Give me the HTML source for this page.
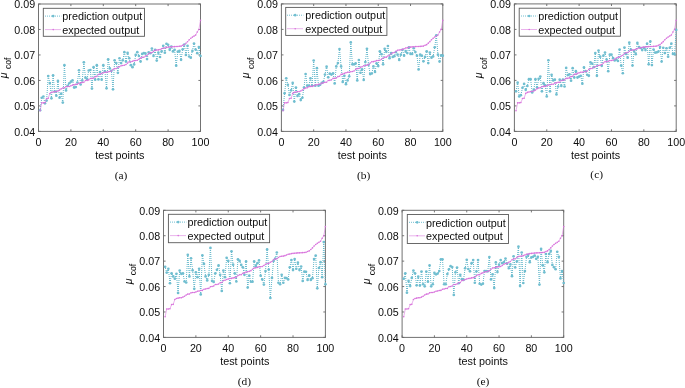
<!DOCTYPE html>
<html lang="en"><head><meta charset="utf-8"><title>Prediction output vs expected output</title>
<style>html,body{margin:0;padding:0;background:#fff;}body{width:685px;height:388px;overflow:hidden;}svg{display:block;}
.sa{font-family:"Liberation Sans",Arial,Helvetica,sans-serif;}
.se{font-family:"Liberation Serif","Times New Roman",Times,serif;}
</style>
</head><body>
<svg width="685" height="388" viewBox="0 0 685 388">
<rect x="0" y="0" width="685" height="388" fill="#ffffff"/>
<defs><pattern id="dt" patternUnits="userSpaceOnUse" width="2" height="2"><rect x="0" y="0" width="2" height="1" fill="#62b7ca"/></pattern></defs>
<g>
<rect x="38.5" y="4" width="162" height="127.4" fill="none" stroke="#727272" stroke-width="1"/>
<path d="M38.5 131.4V129.3M38.5 4V6.1M38.5 131.4H40.6M200.5 131.4H198.4M70.9 131.4V129.3M70.9 4V6.1M38.5 105.92H40.6M200.5 105.92H198.4M103.3 131.4V129.3M103.3 4V6.1M38.5 80.44H40.6M200.5 80.44H198.4M135.7 131.4V129.3M135.7 4V6.1M38.5 54.96H40.6M200.5 54.96H198.4M168.1 131.4V129.3M168.1 4V6.1M38.5 29.48H40.6M200.5 29.48H198.4M200.5 131.4V129.3M200.5 4V6.1M38.5 4H40.6M200.5 4H198.4" stroke="#686868" stroke-width="0.9" fill="none"/>
<polyline points="40.12,110.25 41.74,97.77 43.36,96.49 44.98,103.37 46.6,100.57 48.22,76.11 49.84,82.99 51.46,98.28 53.08,75.34 54.7,91.4 56.32,95.73 57.94,80.95 59.56,97.77 61.18,93.69 62.8,102.61 64.42,65.15 66.04,90.38 67.66,85.79 69.28,83.24 70.9,81.71 72.52,80.44 74.14,87.57 75.76,87.06 77.38,82.48 79,70.25 80.62,84.52 82.24,80.44 83.86,62.35 85.48,77.64 87.1,78.91 88.72,70.5 90.34,69.99 91.96,88.59 93.58,67.19 95.2,79.68 96.82,65.15 98.44,79.42 100.06,72.03 101.68,79.68 103.3,65.15 104.92,71.27 106.54,88.34 108.16,59.29 109.78,68.46 111.4,70.76 113.02,89.36 114.64,60.31 116.26,63.11 117.88,72.8 119.5,58.27 121.12,63.11 122.74,60.31 124.36,52.16 125.98,61.58 127.6,52.92 129.22,58.27 130.84,65.15 132.46,67.19 134.08,64.39 135.7,54.96 137.32,52.16 138.94,55.98 140.56,61.58 142.18,53.94 143.8,53.18 145.42,53.43 147.04,59.04 148.66,52.41 150.28,53.18 151.9,48.59 153.52,55.98 155.14,49.86 156.76,60.57 158.38,52.67 160,57 161.62,51.39 163.24,45.79 164.86,52.67 166.48,43.75 168.1,44.77 169.72,49.86 171.34,46.55 172.96,51.39 174.58,49.86 176.2,65.66 177.82,51.65 179.44,50.88 181.06,59.8 182.68,49.35 184.3,44.51 185.92,54.96 187.54,45.79 189.16,56.49 190.78,57.76 192.4,50.88 194.02,43.49 195.64,49.61 197.26,53.18 198.88,47.06 200.5,55.98" fill="none" stroke="url(#dt)" stroke-width="1"/>
<g fill="#70bed0"><circle cx="40.12" cy="110.25" r="1.35"/><circle cx="41.74" cy="97.77" r="1.35"/><circle cx="43.36" cy="96.49" r="1.35"/><circle cx="44.98" cy="103.37" r="1.35"/><circle cx="46.6" cy="100.57" r="1.35"/><circle cx="48.22" cy="76.11" r="1.35"/><circle cx="49.84" cy="82.99" r="1.35"/><circle cx="51.46" cy="98.28" r="1.35"/><circle cx="53.08" cy="75.34" r="1.35"/><circle cx="54.7" cy="91.4" r="1.35"/><circle cx="56.32" cy="95.73" r="1.35"/><circle cx="57.94" cy="80.95" r="1.35"/><circle cx="59.56" cy="97.77" r="1.35"/><circle cx="61.18" cy="93.69" r="1.35"/><circle cx="62.8" cy="102.61" r="1.35"/><circle cx="64.42" cy="65.15" r="1.35"/><circle cx="66.04" cy="90.38" r="1.35"/><circle cx="67.66" cy="85.79" r="1.35"/><circle cx="69.28" cy="83.24" r="1.35"/><circle cx="70.9" cy="81.71" r="1.35"/><circle cx="72.52" cy="80.44" r="1.35"/><circle cx="74.14" cy="87.57" r="1.35"/><circle cx="75.76" cy="87.06" r="1.35"/><circle cx="77.38" cy="82.48" r="1.35"/><circle cx="79" cy="70.25" r="1.35"/><circle cx="80.62" cy="84.52" r="1.35"/><circle cx="82.24" cy="80.44" r="1.35"/><circle cx="83.86" cy="62.35" r="1.35"/><circle cx="85.48" cy="77.64" r="1.35"/><circle cx="87.1" cy="78.91" r="1.35"/><circle cx="88.72" cy="70.5" r="1.35"/><circle cx="90.34" cy="69.99" r="1.35"/><circle cx="91.96" cy="88.59" r="1.35"/><circle cx="93.58" cy="67.19" r="1.35"/><circle cx="95.2" cy="79.68" r="1.35"/><circle cx="96.82" cy="65.15" r="1.35"/><circle cx="98.44" cy="79.42" r="1.35"/><circle cx="100.06" cy="72.03" r="1.35"/><circle cx="101.68" cy="79.68" r="1.35"/><circle cx="103.3" cy="65.15" r="1.35"/><circle cx="104.92" cy="71.27" r="1.35"/><circle cx="106.54" cy="88.34" r="1.35"/><circle cx="108.16" cy="59.29" r="1.35"/><circle cx="109.78" cy="68.46" r="1.35"/><circle cx="111.4" cy="70.76" r="1.35"/><circle cx="113.02" cy="89.36" r="1.35"/><circle cx="114.64" cy="60.31" r="1.35"/><circle cx="116.26" cy="63.11" r="1.35"/><circle cx="117.88" cy="72.8" r="1.35"/><circle cx="119.5" cy="58.27" r="1.35"/><circle cx="121.12" cy="63.11" r="1.35"/><circle cx="122.74" cy="60.31" r="1.35"/><circle cx="124.36" cy="52.16" r="1.35"/><circle cx="125.98" cy="61.58" r="1.35"/><circle cx="127.6" cy="52.92" r="1.35"/><circle cx="129.22" cy="58.27" r="1.35"/><circle cx="130.84" cy="65.15" r="1.35"/><circle cx="132.46" cy="67.19" r="1.35"/><circle cx="134.08" cy="64.39" r="1.35"/><circle cx="135.7" cy="54.96" r="1.35"/><circle cx="137.32" cy="52.16" r="1.35"/><circle cx="138.94" cy="55.98" r="1.35"/><circle cx="140.56" cy="61.58" r="1.35"/><circle cx="142.18" cy="53.94" r="1.35"/><circle cx="143.8" cy="53.18" r="1.35"/><circle cx="145.42" cy="53.43" r="1.35"/><circle cx="147.04" cy="59.04" r="1.35"/><circle cx="148.66" cy="52.41" r="1.35"/><circle cx="150.28" cy="53.18" r="1.35"/><circle cx="151.9" cy="48.59" r="1.35"/><circle cx="153.52" cy="55.98" r="1.35"/><circle cx="155.14" cy="49.86" r="1.35"/><circle cx="156.76" cy="60.57" r="1.35"/><circle cx="158.38" cy="52.67" r="1.35"/><circle cx="160" cy="57" r="1.35"/><circle cx="161.62" cy="51.39" r="1.35"/><circle cx="163.24" cy="45.79" r="1.35"/><circle cx="164.86" cy="52.67" r="1.35"/><circle cx="166.48" cy="43.75" r="1.35"/><circle cx="168.1" cy="44.77" r="1.35"/><circle cx="169.72" cy="49.86" r="1.35"/><circle cx="171.34" cy="46.55" r="1.35"/><circle cx="172.96" cy="51.39" r="1.35"/><circle cx="174.58" cy="49.86" r="1.35"/><circle cx="176.2" cy="65.66" r="1.35"/><circle cx="177.82" cy="51.65" r="1.35"/><circle cx="179.44" cy="50.88" r="1.35"/><circle cx="181.06" cy="59.8" r="1.35"/><circle cx="182.68" cy="49.35" r="1.35"/><circle cx="184.3" cy="44.51" r="1.35"/><circle cx="185.92" cy="54.96" r="1.35"/><circle cx="187.54" cy="45.79" r="1.35"/><circle cx="189.16" cy="56.49" r="1.35"/><circle cx="190.78" cy="57.76" r="1.35"/><circle cx="192.4" cy="50.88" r="1.35"/><circle cx="194.02" cy="43.49" r="1.35"/><circle cx="195.64" cy="49.61" r="1.35"/><circle cx="197.26" cy="53.18" r="1.35"/><circle cx="198.88" cy="47.06" r="1.35"/><circle cx="200.5" cy="55.98" r="1.35"/></g>
<polyline points="40.12,110.76 41.74,102.86 43.36,102.86 44.98,102.61 46.6,98.53 48.22,98.28 49.84,93.43 51.46,92.42 53.08,92.06 54.7,91.65 56.32,91.6 57.94,91.01 59.56,90.12 61.18,88.85 62.8,88.03 64.42,87.83 66.04,86.73 67.66,86.45 69.28,86.45 70.9,85.84 72.52,85.1 74.14,84.85 75.76,84.34 77.38,84.29 79,83.19 80.62,82.89 82.24,82.38 83.86,82.3 85.48,80.57 87.1,80.39 88.72,79.88 90.34,78.43 91.96,78.4 93.58,77.94 95.2,76.67 96.82,76.36 98.44,74.45 100.06,74.15 101.68,73.43 103.3,72.82 104.92,72.29 106.54,72.26 108.16,71.78 109.78,71.5 111.4,70.99 113.02,69.43 114.64,68.64 116.26,68.49 117.88,67.24 119.5,66.73 121.12,65.81 122.74,65.56 124.36,65.2 125.98,64.52 127.6,63.09 129.22,61.76 130.84,61.69 132.46,61.25 134.08,60.67 135.7,60.54 137.32,60.26 138.94,59.27 140.56,58.17 142.18,57.36 143.8,57.23 145.42,56.06 147.04,55.34 148.66,53.58 150.28,52.79 151.9,52.62 153.52,51.34 155.14,50.25 156.76,50.07 158.38,49.91 160,49.46 161.62,48.79 163.24,48.05 164.86,47.93 166.48,47.42 168.1,47.19 169.72,46.98 171.34,46.88 172.96,46.68 174.58,46.63 176.2,46.55 177.82,46.45 179.44,46.27 181.06,46.14 182.68,45.3 184.3,44.72 185.92,43.24 187.54,41.71 189.16,39.85 190.78,38.32 192.4,37.12 194.02,36.1 195.64,35.09 197.26,32.03 198.88,29.48 200.5,20.31" fill="none" stroke="#d873dc" stroke-width="0.55"/>
<g fill="#d873dc"><circle cx="40.12" cy="110.76" r="0.8"/><circle cx="41.74" cy="102.86" r="0.8"/><circle cx="43.36" cy="102.86" r="0.8"/><circle cx="44.98" cy="102.61" r="0.8"/><circle cx="46.6" cy="98.53" r="0.8"/><circle cx="48.22" cy="98.28" r="0.8"/><circle cx="49.84" cy="93.43" r="0.8"/><circle cx="51.46" cy="92.42" r="0.8"/><circle cx="53.08" cy="92.06" r="0.8"/><circle cx="54.7" cy="91.65" r="0.8"/><circle cx="56.32" cy="91.6" r="0.8"/><circle cx="57.94" cy="91.01" r="0.8"/><circle cx="59.56" cy="90.12" r="0.8"/><circle cx="61.18" cy="88.85" r="0.8"/><circle cx="62.8" cy="88.03" r="0.8"/><circle cx="64.42" cy="87.83" r="0.8"/><circle cx="66.04" cy="86.73" r="0.8"/><circle cx="67.66" cy="86.45" r="0.8"/><circle cx="69.28" cy="86.45" r="0.8"/><circle cx="70.9" cy="85.84" r="0.8"/><circle cx="72.52" cy="85.1" r="0.8"/><circle cx="74.14" cy="84.85" r="0.8"/><circle cx="75.76" cy="84.34" r="0.8"/><circle cx="77.38" cy="84.29" r="0.8"/><circle cx="79" cy="83.19" r="0.8"/><circle cx="80.62" cy="82.89" r="0.8"/><circle cx="82.24" cy="82.38" r="0.8"/><circle cx="83.86" cy="82.3" r="0.8"/><circle cx="85.48" cy="80.57" r="0.8"/><circle cx="87.1" cy="80.39" r="0.8"/><circle cx="88.72" cy="79.88" r="0.8"/><circle cx="90.34" cy="78.43" r="0.8"/><circle cx="91.96" cy="78.4" r="0.8"/><circle cx="93.58" cy="77.94" r="0.8"/><circle cx="95.2" cy="76.67" r="0.8"/><circle cx="96.82" cy="76.36" r="0.8"/><circle cx="98.44" cy="74.45" r="0.8"/><circle cx="100.06" cy="74.15" r="0.8"/><circle cx="101.68" cy="73.43" r="0.8"/><circle cx="103.3" cy="72.82" r="0.8"/><circle cx="104.92" cy="72.29" r="0.8"/><circle cx="106.54" cy="72.26" r="0.8"/><circle cx="108.16" cy="71.78" r="0.8"/><circle cx="109.78" cy="71.5" r="0.8"/><circle cx="111.4" cy="70.99" r="0.8"/><circle cx="113.02" cy="69.43" r="0.8"/><circle cx="114.64" cy="68.64" r="0.8"/><circle cx="116.26" cy="68.49" r="0.8"/><circle cx="117.88" cy="67.24" r="0.8"/><circle cx="119.5" cy="66.73" r="0.8"/><circle cx="121.12" cy="65.81" r="0.8"/><circle cx="122.74" cy="65.56" r="0.8"/><circle cx="124.36" cy="65.2" r="0.8"/><circle cx="125.98" cy="64.52" r="0.8"/><circle cx="127.6" cy="63.09" r="0.8"/><circle cx="129.22" cy="61.76" r="0.8"/><circle cx="130.84" cy="61.69" r="0.8"/><circle cx="132.46" cy="61.25" r="0.8"/><circle cx="134.08" cy="60.67" r="0.8"/><circle cx="135.7" cy="60.54" r="0.8"/><circle cx="137.32" cy="60.26" r="0.8"/><circle cx="138.94" cy="59.27" r="0.8"/><circle cx="140.56" cy="58.17" r="0.8"/><circle cx="142.18" cy="57.36" r="0.8"/><circle cx="143.8" cy="57.23" r="0.8"/><circle cx="145.42" cy="56.06" r="0.8"/><circle cx="147.04" cy="55.34" r="0.8"/><circle cx="148.66" cy="53.58" r="0.8"/><circle cx="150.28" cy="52.79" r="0.8"/><circle cx="151.9" cy="52.62" r="0.8"/><circle cx="153.52" cy="51.34" r="0.8"/><circle cx="155.14" cy="50.25" r="0.8"/><circle cx="156.76" cy="50.07" r="0.8"/><circle cx="158.38" cy="49.91" r="0.8"/><circle cx="160" cy="49.46" r="0.8"/><circle cx="161.62" cy="48.79" r="0.8"/><circle cx="163.24" cy="48.05" r="0.8"/><circle cx="164.86" cy="47.93" r="0.8"/><circle cx="166.48" cy="47.42" r="0.8"/><circle cx="168.1" cy="47.19" r="0.8"/><circle cx="169.72" cy="46.98" r="0.8"/><circle cx="171.34" cy="46.88" r="0.8"/><circle cx="172.96" cy="46.68" r="0.8"/><circle cx="174.58" cy="46.63" r="0.8"/><circle cx="176.2" cy="46.55" r="0.8"/><circle cx="177.82" cy="46.45" r="0.8"/><circle cx="179.44" cy="46.27" r="0.8"/><circle cx="181.06" cy="46.14" r="0.8"/><circle cx="182.68" cy="45.3" r="0.8"/><circle cx="184.3" cy="44.72" r="0.8"/><circle cx="185.92" cy="43.24" r="0.8"/><circle cx="187.54" cy="41.71" r="0.8"/><circle cx="189.16" cy="39.85" r="0.8"/><circle cx="190.78" cy="38.32" r="0.8"/><circle cx="192.4" cy="37.12" r="0.8"/><circle cx="194.02" cy="36.1" r="0.8"/><circle cx="195.64" cy="35.09" r="0.8"/><circle cx="197.26" cy="32.03" r="0.8"/><circle cx="198.88" cy="29.48" r="0.8"/><circle cx="200.5" cy="20.31" r="0.8"/></g>
<g class="sa" font-size="10.7" fill="#0d0d0d">
<text x="38.5" y="145.8" text-anchor="middle">0</text>
<text x="70.9" y="145.8" text-anchor="middle">20</text>
<text x="103.3" y="145.8" text-anchor="middle">40</text>
<text x="135.7" y="145.8" text-anchor="middle">60</text>
<text x="168.1" y="145.8" text-anchor="middle">80</text>
<text x="200.5" y="145.8" text-anchor="middle">100</text>
<text x="35.1" y="135.7" text-anchor="end">0.04</text>
<text x="35.1" y="110.22" text-anchor="end">0.05</text>
<text x="35.1" y="84.74" text-anchor="end">0.06</text>
<text x="35.1" y="59.26" text-anchor="end">0.07</text>
<text x="35.1" y="33.78" text-anchor="end">0.08</text>
<text x="35.1" y="8.3" text-anchor="end">0.09</text>
</g>
<text x="119.8" y="159.4" text-anchor="middle" class="sa" font-size="10.8" fill="#0d0d0d">test points</text>
<text transform="translate(6.5,78.2) rotate(-90)" class="sa" font-size="10.5" font-style="italic" fill="#0d0d0d">μ</text>
<text transform="translate(11,69.1) rotate(-90)" class="sa" font-size="8.6" fill="#0d0d0d">cof</text>
<text x="121" y="178.6" text-anchor="middle" class="se" font-size="11.4" fill="#0d0d0d">(a)</text>
<rect x="43.3" y="8.3" width="101.2" height="28" fill="#ffffff" stroke="#5a5a5a" stroke-width="0.9"/>
<path d="M45 16.1H61.4" stroke="#70bed0" stroke-width="1" stroke-dasharray="1 1" fill="none"/>
<circle cx="53.2" cy="16.1" r="1.35" fill="#70bed0"/>
<path d="M45 29.6H61" stroke="#d873dc" stroke-width="0.55" fill="none"/>
<circle cx="53.2" cy="29.6" r="0.8" fill="#d873dc"/>
<text x="62.3" y="20.3" class="sa" font-size="10.8" fill="#0d0d0d">prediction output</text>
<text x="62.3" y="33.8" class="sa" font-size="10.8" fill="#0d0d0d">expected output</text>
</g>
<g>
<rect x="281.4" y="3.9" width="161.4" height="127.5" fill="none" stroke="#727272" stroke-width="1"/>
<path d="M281.4 131.4V129.3M281.4 3.9V6M281.4 131.4H283.5M442.8 131.4H440.7M313.68 131.4V129.3M313.68 3.9V6M281.4 105.9H283.5M442.8 105.9H440.7M345.96 131.4V129.3M345.96 3.9V6M281.4 80.4H283.5M442.8 80.4H440.7M378.24 131.4V129.3M378.24 3.9V6M281.4 54.9H283.5M442.8 54.9H440.7M410.52 131.4V129.3M410.52 3.9V6M281.4 29.4H283.5M442.8 29.4H440.7M442.8 131.4V129.3M442.8 3.9V6M281.4 3.9H283.5M442.8 3.9H440.7" stroke="#686868" stroke-width="0.9" fill="none"/>
<polyline points="283.01,109.98 284.63,93.15 286.24,78.36 287.86,84.74 289.47,94.94 291.08,90.35 292.7,82.95 294.31,101.56 295.93,87.54 297.54,95.96 299.15,94.17 300.77,100.04 302.38,97.74 304,87.54 305.61,74.03 307.22,85.76 308.84,85.76 310.45,78.36 312.07,85.76 313.68,60.51 315.29,85.76 316.91,68.16 318.52,85.76 320.14,84.74 321.75,82.95 323.36,81.93 324.98,74.53 326.59,66.63 328.21,77.34 329.82,73.51 331.43,74.53 333.05,73.26 334.66,83.46 336.28,66.38 337.89,63.06 339.5,49.03 341.12,66.38 342.73,81.93 344.35,75.81 345.96,84.22 347.57,80.4 349.19,76.32 350.8,42.41 352.42,64.34 354.03,64.34 355.64,63.32 357.26,80.4 358.87,60 360.49,72.75 362.1,69.44 363.71,79.89 365.33,62.04 366.94,48.78 368.56,64.84 370.17,74.03 371.78,73.51 373.4,66.38 375.01,71.99 376.63,63.32 378.24,66.12 379.85,51.33 381.47,54.14 383.08,64.34 384.7,48.78 386.31,51.84 387.92,45.98 389.54,58.22 391.15,53.12 392.77,56.94 394.38,56.17 395.99,52.1 397.61,54.65 399.22,60 400.84,54.65 402.45,49.8 404.06,55.67 405.68,51.08 407.29,53.12 408.91,47.25 410.52,53.88 412.13,53.88 413.75,48.27 415.36,52.1 416.98,55.67 418.59,69.44 420.2,54.65 421.82,55.67 423.43,61.28 425.05,56.94 426.66,51.33 428.27,63.06 429.89,52.61 431.5,57.71 433.12,56.43 434.73,47.25 436.34,35.27 437.96,54.65 439.57,61.53 441.19,55.41 442.8,55.67" fill="none" stroke="url(#dt)" stroke-width="1"/>
<g fill="#70bed0"><circle cx="283.01" cy="109.98" r="1.35"/><circle cx="284.63" cy="93.15" r="1.35"/><circle cx="286.24" cy="78.36" r="1.35"/><circle cx="287.86" cy="84.74" r="1.35"/><circle cx="289.47" cy="94.94" r="1.35"/><circle cx="291.08" cy="90.35" r="1.35"/><circle cx="292.7" cy="82.95" r="1.35"/><circle cx="294.31" cy="101.56" r="1.35"/><circle cx="295.93" cy="87.54" r="1.35"/><circle cx="297.54" cy="95.96" r="1.35"/><circle cx="299.15" cy="94.17" r="1.35"/><circle cx="300.77" cy="100.04" r="1.35"/><circle cx="302.38" cy="97.74" r="1.35"/><circle cx="304" cy="87.54" r="1.35"/><circle cx="305.61" cy="74.03" r="1.35"/><circle cx="307.22" cy="85.76" r="1.35"/><circle cx="308.84" cy="85.76" r="1.35"/><circle cx="310.45" cy="78.36" r="1.35"/><circle cx="312.07" cy="85.76" r="1.35"/><circle cx="313.68" cy="60.51" r="1.35"/><circle cx="315.29" cy="85.76" r="1.35"/><circle cx="316.91" cy="68.16" r="1.35"/><circle cx="318.52" cy="85.76" r="1.35"/><circle cx="320.14" cy="84.74" r="1.35"/><circle cx="321.75" cy="82.95" r="1.35"/><circle cx="323.36" cy="81.93" r="1.35"/><circle cx="324.98" cy="74.53" r="1.35"/><circle cx="326.59" cy="66.63" r="1.35"/><circle cx="328.21" cy="77.34" r="1.35"/><circle cx="329.82" cy="73.51" r="1.35"/><circle cx="331.43" cy="74.53" r="1.35"/><circle cx="333.05" cy="73.26" r="1.35"/><circle cx="334.66" cy="83.46" r="1.35"/><circle cx="336.28" cy="66.38" r="1.35"/><circle cx="337.89" cy="63.06" r="1.35"/><circle cx="339.5" cy="49.03" r="1.35"/><circle cx="341.12" cy="66.38" r="1.35"/><circle cx="342.73" cy="81.93" r="1.35"/><circle cx="344.35" cy="75.81" r="1.35"/><circle cx="345.96" cy="84.22" r="1.35"/><circle cx="347.57" cy="80.4" r="1.35"/><circle cx="349.19" cy="76.32" r="1.35"/><circle cx="350.8" cy="42.41" r="1.35"/><circle cx="352.42" cy="64.34" r="1.35"/><circle cx="354.03" cy="64.34" r="1.35"/><circle cx="355.64" cy="63.32" r="1.35"/><circle cx="357.26" cy="80.4" r="1.35"/><circle cx="358.87" cy="60" r="1.35"/><circle cx="360.49" cy="72.75" r="1.35"/><circle cx="362.1" cy="69.44" r="1.35"/><circle cx="363.71" cy="79.89" r="1.35"/><circle cx="365.33" cy="62.04" r="1.35"/><circle cx="366.94" cy="48.78" r="1.35"/><circle cx="368.56" cy="64.84" r="1.35"/><circle cx="370.17" cy="74.03" r="1.35"/><circle cx="371.78" cy="73.51" r="1.35"/><circle cx="373.4" cy="66.38" r="1.35"/><circle cx="375.01" cy="71.99" r="1.35"/><circle cx="376.63" cy="63.32" r="1.35"/><circle cx="378.24" cy="66.12" r="1.35"/><circle cx="379.85" cy="51.33" r="1.35"/><circle cx="381.47" cy="54.14" r="1.35"/><circle cx="383.08" cy="64.34" r="1.35"/><circle cx="384.7" cy="48.78" r="1.35"/><circle cx="386.31" cy="51.84" r="1.35"/><circle cx="387.92" cy="45.98" r="1.35"/><circle cx="389.54" cy="58.22" r="1.35"/><circle cx="391.15" cy="53.12" r="1.35"/><circle cx="392.77" cy="56.94" r="1.35"/><circle cx="394.38" cy="56.17" r="1.35"/><circle cx="395.99" cy="52.1" r="1.35"/><circle cx="397.61" cy="54.65" r="1.35"/><circle cx="399.22" cy="60" r="1.35"/><circle cx="400.84" cy="54.65" r="1.35"/><circle cx="402.45" cy="49.8" r="1.35"/><circle cx="404.06" cy="55.67" r="1.35"/><circle cx="405.68" cy="51.08" r="1.35"/><circle cx="407.29" cy="53.12" r="1.35"/><circle cx="408.91" cy="47.25" r="1.35"/><circle cx="410.52" cy="53.88" r="1.35"/><circle cx="412.13" cy="53.88" r="1.35"/><circle cx="413.75" cy="48.27" r="1.35"/><circle cx="415.36" cy="52.1" r="1.35"/><circle cx="416.98" cy="55.67" r="1.35"/><circle cx="418.59" cy="69.44" r="1.35"/><circle cx="420.2" cy="54.65" r="1.35"/><circle cx="421.82" cy="55.67" r="1.35"/><circle cx="423.43" cy="61.28" r="1.35"/><circle cx="425.05" cy="56.94" r="1.35"/><circle cx="426.66" cy="51.33" r="1.35"/><circle cx="428.27" cy="63.06" r="1.35"/><circle cx="429.89" cy="52.61" r="1.35"/><circle cx="431.5" cy="57.71" r="1.35"/><circle cx="433.12" cy="56.43" r="1.35"/><circle cx="434.73" cy="47.25" r="1.35"/><circle cx="436.34" cy="35.27" r="1.35"/><circle cx="437.96" cy="54.65" r="1.35"/><circle cx="439.57" cy="61.53" r="1.35"/><circle cx="441.19" cy="55.41" r="1.35"/><circle cx="442.8" cy="55.67" r="1.35"/></g>
<polyline points="283.01,110.75 284.63,102.84 286.24,102.84 287.86,102.59 289.47,98.5 291.08,98.25 292.7,93.41 294.31,92.39 295.93,92.03 297.54,91.62 299.15,91.57 300.77,90.98 302.38,90.09 304,88.82 305.61,88 307.22,87.8 308.84,86.7 310.45,86.42 312.07,86.42 313.68,85.81 315.29,85.07 316.91,84.81 318.52,84.3 320.14,84.25 321.75,83.15 323.36,82.85 324.98,82.34 326.59,82.26 328.21,80.53 329.82,80.35 331.43,79.84 333.05,78.39 334.66,78.36 336.28,77.9 337.89,76.63 339.5,76.32 341.12,74.41 342.73,74.1 344.35,73.39 345.96,72.78 347.57,72.24 349.19,72.21 350.8,71.73 352.42,71.45 354.03,70.94 355.64,69.38 357.26,68.59 358.87,68.44 360.49,67.19 362.1,66.68 363.71,65.76 365.33,65.51 366.94,65.15 368.56,64.46 370.17,63.03 371.78,61.71 373.4,61.63 375.01,61.2 376.63,60.61 378.24,60.48 379.85,60.2 381.47,59.21 383.08,58.11 384.7,57.3 386.31,57.17 387.92,56 389.54,55.28 391.15,53.52 392.77,52.73 394.38,52.55 395.99,51.28 397.61,50.18 399.22,50 400.84,49.85 402.45,49.39 404.06,48.73 405.68,47.99 407.29,47.86 408.91,47.35 410.52,47.12 412.13,46.92 413.75,46.82 415.36,46.61 416.98,46.56 418.59,46.48 420.2,46.38 421.82,46.2 423.43,46.08 425.05,45.24 426.66,44.65 428.27,43.17 429.89,41.64 431.5,39.78 433.12,38.25 434.73,37.05 436.34,36.03 437.96,35.01 439.57,31.95 441.19,29.4 442.8,20.22" fill="none" stroke="#d873dc" stroke-width="0.55"/>
<g fill="#d873dc"><circle cx="283.01" cy="110.75" r="0.8"/><circle cx="284.63" cy="102.84" r="0.8"/><circle cx="286.24" cy="102.84" r="0.8"/><circle cx="287.86" cy="102.59" r="0.8"/><circle cx="289.47" cy="98.5" r="0.8"/><circle cx="291.08" cy="98.25" r="0.8"/><circle cx="292.7" cy="93.41" r="0.8"/><circle cx="294.31" cy="92.39" r="0.8"/><circle cx="295.93" cy="92.03" r="0.8"/><circle cx="297.54" cy="91.62" r="0.8"/><circle cx="299.15" cy="91.57" r="0.8"/><circle cx="300.77" cy="90.98" r="0.8"/><circle cx="302.38" cy="90.09" r="0.8"/><circle cx="304" cy="88.82" r="0.8"/><circle cx="305.61" cy="88" r="0.8"/><circle cx="307.22" cy="87.8" r="0.8"/><circle cx="308.84" cy="86.7" r="0.8"/><circle cx="310.45" cy="86.42" r="0.8"/><circle cx="312.07" cy="86.42" r="0.8"/><circle cx="313.68" cy="85.81" r="0.8"/><circle cx="315.29" cy="85.07" r="0.8"/><circle cx="316.91" cy="84.81" r="0.8"/><circle cx="318.52" cy="84.3" r="0.8"/><circle cx="320.14" cy="84.25" r="0.8"/><circle cx="321.75" cy="83.15" r="0.8"/><circle cx="323.36" cy="82.85" r="0.8"/><circle cx="324.98" cy="82.34" r="0.8"/><circle cx="326.59" cy="82.26" r="0.8"/><circle cx="328.21" cy="80.53" r="0.8"/><circle cx="329.82" cy="80.35" r="0.8"/><circle cx="331.43" cy="79.84" r="0.8"/><circle cx="333.05" cy="78.39" r="0.8"/><circle cx="334.66" cy="78.36" r="0.8"/><circle cx="336.28" cy="77.9" r="0.8"/><circle cx="337.89" cy="76.63" r="0.8"/><circle cx="339.5" cy="76.32" r="0.8"/><circle cx="341.12" cy="74.41" r="0.8"/><circle cx="342.73" cy="74.1" r="0.8"/><circle cx="344.35" cy="73.39" r="0.8"/><circle cx="345.96" cy="72.78" r="0.8"/><circle cx="347.57" cy="72.24" r="0.8"/><circle cx="349.19" cy="72.21" r="0.8"/><circle cx="350.8" cy="71.73" r="0.8"/><circle cx="352.42" cy="71.45" r="0.8"/><circle cx="354.03" cy="70.94" r="0.8"/><circle cx="355.64" cy="69.38" r="0.8"/><circle cx="357.26" cy="68.59" r="0.8"/><circle cx="358.87" cy="68.44" r="0.8"/><circle cx="360.49" cy="67.19" r="0.8"/><circle cx="362.1" cy="66.68" r="0.8"/><circle cx="363.71" cy="65.76" r="0.8"/><circle cx="365.33" cy="65.51" r="0.8"/><circle cx="366.94" cy="65.15" r="0.8"/><circle cx="368.56" cy="64.46" r="0.8"/><circle cx="370.17" cy="63.03" r="0.8"/><circle cx="371.78" cy="61.71" r="0.8"/><circle cx="373.4" cy="61.63" r="0.8"/><circle cx="375.01" cy="61.2" r="0.8"/><circle cx="376.63" cy="60.61" r="0.8"/><circle cx="378.24" cy="60.48" r="0.8"/><circle cx="379.85" cy="60.2" r="0.8"/><circle cx="381.47" cy="59.21" r="0.8"/><circle cx="383.08" cy="58.11" r="0.8"/><circle cx="384.7" cy="57.3" r="0.8"/><circle cx="386.31" cy="57.17" r="0.8"/><circle cx="387.92" cy="56" r="0.8"/><circle cx="389.54" cy="55.28" r="0.8"/><circle cx="391.15" cy="53.52" r="0.8"/><circle cx="392.77" cy="52.73" r="0.8"/><circle cx="394.38" cy="52.55" r="0.8"/><circle cx="395.99" cy="51.28" r="0.8"/><circle cx="397.61" cy="50.18" r="0.8"/><circle cx="399.22" cy="50" r="0.8"/><circle cx="400.84" cy="49.85" r="0.8"/><circle cx="402.45" cy="49.39" r="0.8"/><circle cx="404.06" cy="48.73" r="0.8"/><circle cx="405.68" cy="47.99" r="0.8"/><circle cx="407.29" cy="47.86" r="0.8"/><circle cx="408.91" cy="47.35" r="0.8"/><circle cx="410.52" cy="47.12" r="0.8"/><circle cx="412.13" cy="46.92" r="0.8"/><circle cx="413.75" cy="46.82" r="0.8"/><circle cx="415.36" cy="46.61" r="0.8"/><circle cx="416.98" cy="46.56" r="0.8"/><circle cx="418.59" cy="46.48" r="0.8"/><circle cx="420.2" cy="46.38" r="0.8"/><circle cx="421.82" cy="46.2" r="0.8"/><circle cx="423.43" cy="46.08" r="0.8"/><circle cx="425.05" cy="45.24" r="0.8"/><circle cx="426.66" cy="44.65" r="0.8"/><circle cx="428.27" cy="43.17" r="0.8"/><circle cx="429.89" cy="41.64" r="0.8"/><circle cx="431.5" cy="39.78" r="0.8"/><circle cx="433.12" cy="38.25" r="0.8"/><circle cx="434.73" cy="37.05" r="0.8"/><circle cx="436.34" cy="36.03" r="0.8"/><circle cx="437.96" cy="35.01" r="0.8"/><circle cx="439.57" cy="31.95" r="0.8"/><circle cx="441.19" cy="29.4" r="0.8"/><circle cx="442.8" cy="20.22" r="0.8"/></g>
<g class="sa" font-size="10.7" fill="#0d0d0d">
<text x="281.4" y="145.8" text-anchor="middle">0</text>
<text x="313.68" y="145.8" text-anchor="middle">20</text>
<text x="345.96" y="145.8" text-anchor="middle">40</text>
<text x="378.24" y="145.8" text-anchor="middle">60</text>
<text x="410.52" y="145.8" text-anchor="middle">80</text>
<text x="442.8" y="145.8" text-anchor="middle">100</text>
<text x="278" y="135.7" text-anchor="end">0.04</text>
<text x="278" y="110.2" text-anchor="end">0.05</text>
<text x="278" y="84.7" text-anchor="end">0.06</text>
<text x="278" y="59.2" text-anchor="end">0.07</text>
<text x="278" y="33.7" text-anchor="end">0.08</text>
<text x="278" y="8.2" text-anchor="end">0.09</text>
</g>
<text x="362.4" y="159.4" text-anchor="middle" class="sa" font-size="10.8" fill="#0d0d0d">test points</text>
<text transform="translate(249.4,78.15) rotate(-90)" class="sa" font-size="10.5" font-style="italic" fill="#0d0d0d">μ</text>
<text transform="translate(253.9,69.05) rotate(-90)" class="sa" font-size="8.6" fill="#0d0d0d">cof</text>
<text x="363.6" y="178.6" text-anchor="middle" class="se" font-size="11.4" fill="#0d0d0d">(b)</text>
<rect x="285.7" y="7.4" width="101.2" height="28" fill="#ffffff" stroke="#5a5a5a" stroke-width="0.9"/>
<path d="M287 15.2H303.4" stroke="#70bed0" stroke-width="1" stroke-dasharray="1 1" fill="none"/>
<circle cx="295.2" cy="15.2" r="1.35" fill="#70bed0"/>
<path d="M287 28.7H303" stroke="#d873dc" stroke-width="0.55" fill="none"/>
<circle cx="295.2" cy="28.7" r="0.8" fill="#d873dc"/>
<text x="305.3" y="19.4" class="sa" font-size="10.8" fill="#0d0d0d">prediction output</text>
<text x="305.3" y="32.9" class="sa" font-size="10.8" fill="#0d0d0d">expected output</text>
</g>
<g>
<rect x="514.4" y="3.9" width="161.8" height="127.5" fill="none" stroke="#727272" stroke-width="1"/>
<path d="M514.4 131.4V129.3M514.4 3.9V6M514.4 131.4H516.5M676.2 131.4H674.1M546.76 131.4V129.3M546.76 3.9V6M514.4 105.9H516.5M676.2 105.9H674.1M579.12 131.4V129.3M579.12 3.9V6M514.4 80.4H516.5M676.2 80.4H674.1M611.48 131.4V129.3M611.48 3.9V6M514.4 54.9H516.5M676.2 54.9H674.1M643.84 131.4V129.3M643.84 3.9V6M514.4 29.4H516.5M676.2 29.4H674.1M676.2 131.4V129.3M676.2 3.9V6M514.4 3.9H516.5M676.2 3.9H674.1" stroke="#686868" stroke-width="0.9" fill="none"/>
<polyline points="516.02,91.37 517.64,82.7 519.25,96.47 520.87,95.19 522.49,87.8 524.11,83.97 525.73,89.84 527.34,86.01 528.96,79.13 530.58,79.13 532.2,92.39 533.82,89.84 535.43,79.13 537.05,87.54 538.67,78.87 540.29,76.58 541.91,91.37 543.52,83.21 545.14,85.25 546.76,96.47 548.38,60.26 550,91.37 551.61,74.79 553.23,80.4 554.85,79.64 556.47,94.43 558.09,86.52 559.7,79.64 561.32,86.01 562.94,79.64 564.56,86.52 566.18,67.91 567.79,75.05 569.41,74.28 571.03,80.66 572.65,68.16 574.27,77.59 575.88,71.22 577.5,77.59 579.12,76.58 580.74,75.81 582.36,83.72 583.97,67.4 585.59,71.22 587.21,74.79 588.83,75.81 590.45,62.3 592.06,63.57 593.68,67.14 595.3,53.12 596.92,75.81 598.54,50.57 600.15,56.69 601.77,65.87 603.39,55.67 605.01,52.61 606.63,59.49 608.24,71.22 609.86,54.65 611.48,54.65 613.1,58.22 614.72,60.51 616.33,59.49 617.95,61.02 619.57,49.55 621.19,65.61 622.81,73.26 624.42,47.5 626.04,53.88 627.66,57.71 629.28,42.66 630.9,49.55 632.51,65.61 634.13,51.08 635.75,54.14 637.37,42.92 638.99,47 640.6,48.02 642.22,50.06 643.84,47.76 645.46,50.06 647.08,43.68 648.69,64.34 650.31,41.38 651.93,65.1 653.55,49.55 655.17,52.61 656.78,52.35 658.4,51.59 660.02,47 661.64,61.53 663.26,47.76 664.87,53.12 666.49,48.27 668.11,56.69 669.73,47.76 671.35,43.68 672.96,53.88 674.58,54.14 676.2,29.91" fill="none" stroke="url(#dt)" stroke-width="1"/>
<g fill="#70bed0"><circle cx="516.02" cy="91.37" r="1.35"/><circle cx="517.64" cy="82.7" r="1.35"/><circle cx="519.25" cy="96.47" r="1.35"/><circle cx="520.87" cy="95.19" r="1.35"/><circle cx="522.49" cy="87.8" r="1.35"/><circle cx="524.11" cy="83.97" r="1.35"/><circle cx="525.73" cy="89.84" r="1.35"/><circle cx="527.34" cy="86.01" r="1.35"/><circle cx="528.96" cy="79.13" r="1.35"/><circle cx="530.58" cy="79.13" r="1.35"/><circle cx="532.2" cy="92.39" r="1.35"/><circle cx="533.82" cy="89.84" r="1.35"/><circle cx="535.43" cy="79.13" r="1.35"/><circle cx="537.05" cy="87.54" r="1.35"/><circle cx="538.67" cy="78.87" r="1.35"/><circle cx="540.29" cy="76.58" r="1.35"/><circle cx="541.91" cy="91.37" r="1.35"/><circle cx="543.52" cy="83.21" r="1.35"/><circle cx="545.14" cy="85.25" r="1.35"/><circle cx="546.76" cy="96.47" r="1.35"/><circle cx="548.38" cy="60.26" r="1.35"/><circle cx="550" cy="91.37" r="1.35"/><circle cx="551.61" cy="74.79" r="1.35"/><circle cx="553.23" cy="80.4" r="1.35"/><circle cx="554.85" cy="79.64" r="1.35"/><circle cx="556.47" cy="94.43" r="1.35"/><circle cx="558.09" cy="86.52" r="1.35"/><circle cx="559.7" cy="79.64" r="1.35"/><circle cx="561.32" cy="86.01" r="1.35"/><circle cx="562.94" cy="79.64" r="1.35"/><circle cx="564.56" cy="86.52" r="1.35"/><circle cx="566.18" cy="67.91" r="1.35"/><circle cx="567.79" cy="75.05" r="1.35"/><circle cx="569.41" cy="74.28" r="1.35"/><circle cx="571.03" cy="80.66" r="1.35"/><circle cx="572.65" cy="68.16" r="1.35"/><circle cx="574.27" cy="77.59" r="1.35"/><circle cx="575.88" cy="71.22" r="1.35"/><circle cx="577.5" cy="77.59" r="1.35"/><circle cx="579.12" cy="76.58" r="1.35"/><circle cx="580.74" cy="75.81" r="1.35"/><circle cx="582.36" cy="83.72" r="1.35"/><circle cx="583.97" cy="67.4" r="1.35"/><circle cx="585.59" cy="71.22" r="1.35"/><circle cx="587.21" cy="74.79" r="1.35"/><circle cx="588.83" cy="75.81" r="1.35"/><circle cx="590.45" cy="62.3" r="1.35"/><circle cx="592.06" cy="63.57" r="1.35"/><circle cx="593.68" cy="67.14" r="1.35"/><circle cx="595.3" cy="53.12" r="1.35"/><circle cx="596.92" cy="75.81" r="1.35"/><circle cx="598.54" cy="50.57" r="1.35"/><circle cx="600.15" cy="56.69" r="1.35"/><circle cx="601.77" cy="65.87" r="1.35"/><circle cx="603.39" cy="55.67" r="1.35"/><circle cx="605.01" cy="52.61" r="1.35"/><circle cx="606.63" cy="59.49" r="1.35"/><circle cx="608.24" cy="71.22" r="1.35"/><circle cx="609.86" cy="54.65" r="1.35"/><circle cx="611.48" cy="54.65" r="1.35"/><circle cx="613.1" cy="58.22" r="1.35"/><circle cx="614.72" cy="60.51" r="1.35"/><circle cx="616.33" cy="59.49" r="1.35"/><circle cx="617.95" cy="61.02" r="1.35"/><circle cx="619.57" cy="49.55" r="1.35"/><circle cx="621.19" cy="65.61" r="1.35"/><circle cx="622.81" cy="73.26" r="1.35"/><circle cx="624.42" cy="47.5" r="1.35"/><circle cx="626.04" cy="53.88" r="1.35"/><circle cx="627.66" cy="57.71" r="1.35"/><circle cx="629.28" cy="42.66" r="1.35"/><circle cx="630.9" cy="49.55" r="1.35"/><circle cx="632.51" cy="65.61" r="1.35"/><circle cx="634.13" cy="51.08" r="1.35"/><circle cx="635.75" cy="54.14" r="1.35"/><circle cx="637.37" cy="42.92" r="1.35"/><circle cx="638.99" cy="47" r="1.35"/><circle cx="640.6" cy="48.02" r="1.35"/><circle cx="642.22" cy="50.06" r="1.35"/><circle cx="643.84" cy="47.76" r="1.35"/><circle cx="645.46" cy="50.06" r="1.35"/><circle cx="647.08" cy="43.68" r="1.35"/><circle cx="648.69" cy="64.34" r="1.35"/><circle cx="650.31" cy="41.38" r="1.35"/><circle cx="651.93" cy="65.1" r="1.35"/><circle cx="653.55" cy="49.55" r="1.35"/><circle cx="655.17" cy="52.61" r="1.35"/><circle cx="656.78" cy="52.35" r="1.35"/><circle cx="658.4" cy="51.59" r="1.35"/><circle cx="660.02" cy="47" r="1.35"/><circle cx="661.64" cy="61.53" r="1.35"/><circle cx="663.26" cy="47.76" r="1.35"/><circle cx="664.87" cy="53.12" r="1.35"/><circle cx="666.49" cy="48.27" r="1.35"/><circle cx="668.11" cy="56.69" r="1.35"/><circle cx="669.73" cy="47.76" r="1.35"/><circle cx="671.35" cy="43.68" r="1.35"/><circle cx="672.96" cy="53.88" r="1.35"/><circle cx="674.58" cy="54.14" r="1.35"/><circle cx="676.2" cy="29.91" r="1.35"/></g>
<polyline points="516.02,110.75 517.64,102.84 519.25,102.84 520.87,102.59 522.49,98.5 524.11,98.25 525.73,93.41 527.34,92.39 528.96,92.03 530.58,91.62 532.2,91.57 533.82,90.98 535.43,90.09 537.05,88.82 538.67,88 540.29,87.8 541.91,86.7 543.52,86.42 545.14,86.42 546.76,85.81 548.38,85.07 550,84.81 551.61,84.3 553.23,84.25 554.85,83.15 556.47,82.85 558.09,82.34 559.7,82.26 561.32,80.53 562.94,80.35 564.56,79.84 566.18,78.39 567.79,78.36 569.41,77.9 571.03,76.63 572.65,76.32 574.27,74.41 575.88,74.1 577.5,73.39 579.12,72.78 580.74,72.24 582.36,72.21 583.97,71.73 585.59,71.45 587.21,70.94 588.83,69.38 590.45,68.59 592.06,68.44 593.68,67.19 595.3,66.68 596.92,65.76 598.54,65.51 600.15,65.15 601.77,64.46 603.39,63.03 605.01,61.71 606.63,61.63 608.24,61.2 609.86,60.61 611.48,60.48 613.1,60.2 614.72,59.21 616.33,58.11 617.95,57.3 619.57,57.17 621.19,56 622.81,55.28 624.42,53.52 626.04,52.73 627.66,52.55 629.28,51.28 630.9,50.18 632.51,50 634.13,49.85 635.75,49.39 637.37,48.73 638.99,47.99 640.6,47.86 642.22,47.35 643.84,47.12 645.46,46.92 647.08,46.82 648.69,46.61 650.31,46.56 651.93,46.48 653.55,46.38 655.17,46.2 656.78,46.08 658.4,45.24 660.02,44.65 661.64,43.17 663.26,41.64 664.87,39.78 666.49,38.25 668.11,37.05 669.73,36.03 671.35,35.01 672.96,31.95 674.58,29.4 676.2,20.22" fill="none" stroke="#d873dc" stroke-width="0.55"/>
<g fill="#d873dc"><circle cx="516.02" cy="110.75" r="0.8"/><circle cx="517.64" cy="102.84" r="0.8"/><circle cx="519.25" cy="102.84" r="0.8"/><circle cx="520.87" cy="102.59" r="0.8"/><circle cx="522.49" cy="98.5" r="0.8"/><circle cx="524.11" cy="98.25" r="0.8"/><circle cx="525.73" cy="93.41" r="0.8"/><circle cx="527.34" cy="92.39" r="0.8"/><circle cx="528.96" cy="92.03" r="0.8"/><circle cx="530.58" cy="91.62" r="0.8"/><circle cx="532.2" cy="91.57" r="0.8"/><circle cx="533.82" cy="90.98" r="0.8"/><circle cx="535.43" cy="90.09" r="0.8"/><circle cx="537.05" cy="88.82" r="0.8"/><circle cx="538.67" cy="88" r="0.8"/><circle cx="540.29" cy="87.8" r="0.8"/><circle cx="541.91" cy="86.7" r="0.8"/><circle cx="543.52" cy="86.42" r="0.8"/><circle cx="545.14" cy="86.42" r="0.8"/><circle cx="546.76" cy="85.81" r="0.8"/><circle cx="548.38" cy="85.07" r="0.8"/><circle cx="550" cy="84.81" r="0.8"/><circle cx="551.61" cy="84.3" r="0.8"/><circle cx="553.23" cy="84.25" r="0.8"/><circle cx="554.85" cy="83.15" r="0.8"/><circle cx="556.47" cy="82.85" r="0.8"/><circle cx="558.09" cy="82.34" r="0.8"/><circle cx="559.7" cy="82.26" r="0.8"/><circle cx="561.32" cy="80.53" r="0.8"/><circle cx="562.94" cy="80.35" r="0.8"/><circle cx="564.56" cy="79.84" r="0.8"/><circle cx="566.18" cy="78.39" r="0.8"/><circle cx="567.79" cy="78.36" r="0.8"/><circle cx="569.41" cy="77.9" r="0.8"/><circle cx="571.03" cy="76.63" r="0.8"/><circle cx="572.65" cy="76.32" r="0.8"/><circle cx="574.27" cy="74.41" r="0.8"/><circle cx="575.88" cy="74.1" r="0.8"/><circle cx="577.5" cy="73.39" r="0.8"/><circle cx="579.12" cy="72.78" r="0.8"/><circle cx="580.74" cy="72.24" r="0.8"/><circle cx="582.36" cy="72.21" r="0.8"/><circle cx="583.97" cy="71.73" r="0.8"/><circle cx="585.59" cy="71.45" r="0.8"/><circle cx="587.21" cy="70.94" r="0.8"/><circle cx="588.83" cy="69.38" r="0.8"/><circle cx="590.45" cy="68.59" r="0.8"/><circle cx="592.06" cy="68.44" r="0.8"/><circle cx="593.68" cy="67.19" r="0.8"/><circle cx="595.3" cy="66.68" r="0.8"/><circle cx="596.92" cy="65.76" r="0.8"/><circle cx="598.54" cy="65.51" r="0.8"/><circle cx="600.15" cy="65.15" r="0.8"/><circle cx="601.77" cy="64.46" r="0.8"/><circle cx="603.39" cy="63.03" r="0.8"/><circle cx="605.01" cy="61.71" r="0.8"/><circle cx="606.63" cy="61.63" r="0.8"/><circle cx="608.24" cy="61.2" r="0.8"/><circle cx="609.86" cy="60.61" r="0.8"/><circle cx="611.48" cy="60.48" r="0.8"/><circle cx="613.1" cy="60.2" r="0.8"/><circle cx="614.72" cy="59.21" r="0.8"/><circle cx="616.33" cy="58.11" r="0.8"/><circle cx="617.95" cy="57.3" r="0.8"/><circle cx="619.57" cy="57.17" r="0.8"/><circle cx="621.19" cy="56" r="0.8"/><circle cx="622.81" cy="55.28" r="0.8"/><circle cx="624.42" cy="53.52" r="0.8"/><circle cx="626.04" cy="52.73" r="0.8"/><circle cx="627.66" cy="52.55" r="0.8"/><circle cx="629.28" cy="51.28" r="0.8"/><circle cx="630.9" cy="50.18" r="0.8"/><circle cx="632.51" cy="50" r="0.8"/><circle cx="634.13" cy="49.85" r="0.8"/><circle cx="635.75" cy="49.39" r="0.8"/><circle cx="637.37" cy="48.73" r="0.8"/><circle cx="638.99" cy="47.99" r="0.8"/><circle cx="640.6" cy="47.86" r="0.8"/><circle cx="642.22" cy="47.35" r="0.8"/><circle cx="643.84" cy="47.12" r="0.8"/><circle cx="645.46" cy="46.92" r="0.8"/><circle cx="647.08" cy="46.82" r="0.8"/><circle cx="648.69" cy="46.61" r="0.8"/><circle cx="650.31" cy="46.56" r="0.8"/><circle cx="651.93" cy="46.48" r="0.8"/><circle cx="653.55" cy="46.38" r="0.8"/><circle cx="655.17" cy="46.2" r="0.8"/><circle cx="656.78" cy="46.08" r="0.8"/><circle cx="658.4" cy="45.24" r="0.8"/><circle cx="660.02" cy="44.65" r="0.8"/><circle cx="661.64" cy="43.17" r="0.8"/><circle cx="663.26" cy="41.64" r="0.8"/><circle cx="664.87" cy="39.78" r="0.8"/><circle cx="666.49" cy="38.25" r="0.8"/><circle cx="668.11" cy="37.05" r="0.8"/><circle cx="669.73" cy="36.03" r="0.8"/><circle cx="671.35" cy="35.01" r="0.8"/><circle cx="672.96" cy="31.95" r="0.8"/><circle cx="674.58" cy="29.4" r="0.8"/><circle cx="676.2" cy="20.22" r="0.8"/></g>
<g class="sa" font-size="10.7" fill="#0d0d0d">
<text x="514.4" y="145.8" text-anchor="middle">0</text>
<text x="546.76" y="145.8" text-anchor="middle">20</text>
<text x="579.12" y="145.8" text-anchor="middle">40</text>
<text x="611.48" y="145.8" text-anchor="middle">60</text>
<text x="643.84" y="145.8" text-anchor="middle">80</text>
<text x="676.2" y="145.8" text-anchor="middle">100</text>
<text x="511" y="135.7" text-anchor="end">0.04</text>
<text x="511" y="110.2" text-anchor="end">0.05</text>
<text x="511" y="84.7" text-anchor="end">0.06</text>
<text x="511" y="59.2" text-anchor="end">0.07</text>
<text x="511" y="33.7" text-anchor="end">0.08</text>
<text x="511" y="8.2" text-anchor="end">0.09</text>
</g>
<text x="595.6" y="159.4" text-anchor="middle" class="sa" font-size="10.8" fill="#0d0d0d">test points</text>
<text transform="translate(482.4,78.15) rotate(-90)" class="sa" font-size="10.5" font-style="italic" fill="#0d0d0d">μ</text>
<text transform="translate(486.9,69.05) rotate(-90)" class="sa" font-size="8.6" fill="#0d0d0d">cof</text>
<text x="596.7" y="178.4" text-anchor="middle" class="se" font-size="11.4" fill="#0d0d0d">(c)</text>
<rect x="519.2" y="8.2" width="101.2" height="28" fill="#ffffff" stroke="#5a5a5a" stroke-width="0.9"/>
<path d="M521 16H537.4" stroke="#70bed0" stroke-width="1" stroke-dasharray="1 1" fill="none"/>
<circle cx="529.2" cy="16" r="1.35" fill="#70bed0"/>
<path d="M521 29.5H537" stroke="#d873dc" stroke-width="0.55" fill="none"/>
<circle cx="529.2" cy="29.5" r="0.8" fill="#d873dc"/>
<text x="538.2" y="20.3" class="sa" font-size="10.8" fill="#0d0d0d">prediction output</text>
<text x="538.2" y="33.8" class="sa" font-size="10.8" fill="#0d0d0d">expected output</text>
</g>
<g>
<rect x="163.5" y="210.3" width="161.9" height="127.1" fill="none" stroke="#727272" stroke-width="1"/>
<path d="M163.5 337.4V335.3M163.5 210.3V212.4M163.5 337.4H165.6M325.4 337.4H323.3M195.88 337.4V335.3M195.88 210.3V212.4M163.5 311.98H165.6M325.4 311.98H323.3M228.26 337.4V335.3M228.26 210.3V212.4M163.5 286.56H165.6M325.4 286.56H323.3M260.64 337.4V335.3M260.64 210.3V212.4M163.5 261.14H165.6M325.4 261.14H323.3M293.02 337.4V335.3M293.02 210.3V212.4M163.5 235.72H165.6M325.4 235.72H323.3M325.4 337.4V335.3M325.4 210.3V212.4M163.5 210.3H165.6M325.4 210.3H323.3" stroke="#686868" stroke-width="0.9" fill="none"/>
<polyline points="165.12,266.73 166.74,272.58 168.36,268.77 169.98,283.26 171.59,273.34 173.21,276.39 174.83,278.68 176.45,273.85 178.07,292.91 179.69,270.55 181.31,273.85 182.93,273.34 184.55,281.48 186.17,282.49 187.78,254.79 189.4,276.39 191.02,258.34 192.64,270.29 194.26,288.85 195.88,272.32 197.5,277.15 199.12,268.77 200.74,294.44 202.36,255.29 203.97,263.94 205.59,276.39 207.21,280.46 208.83,274.87 210.45,247.92 212.07,280.97 213.69,281.98 215.31,273.34 216.93,269.78 218.55,265.46 220.16,274.87 221.78,290.88 223.4,270.55 225.02,277.15 226.64,257.84 228.26,260.89 229.88,283.26 231.5,251.23 233.12,264.7 234.74,273.34 236.35,281.48 237.97,259.36 239.59,260.89 241.21,264.95 242.83,267.24 244.45,274.87 246.07,261.39 247.69,287.58 249.31,275.63 250.93,281.73 252.54,281.73 254.16,261.39 255.78,266.22 257.4,263.17 259.02,260.38 260.64,275.63 262.26,279.44 263.88,284.53 265.5,271.05 267.12,249.45 268.74,269.53 270.35,298 271.97,277.92 273.59,260.89 275.21,258.6 276.83,252.5 278.45,282.75 280.07,284.27 281.69,274.87 283.31,282.75 284.92,277.92 286.54,278.17 288.16,279.44 289.78,267.24 291.4,260.12 293.02,270.04 294.64,259.11 296.26,268.77 297.88,262.67 299.5,270.04 301.12,266.48 302.73,280.97 304.35,271.56 305.97,271.82 307.59,279.95 309.21,275.38 310.83,279.95 312.45,278.17 314.07,259.11 315.69,255.55 317.3,288.34 318.92,268 320.54,262.16 322.16,277.15 323.78,242.08 325.4,284.27" fill="none" stroke="url(#dt)" stroke-width="1"/>
<g fill="#70bed0"><circle cx="165.12" cy="266.73" r="1.35"/><circle cx="166.74" cy="272.58" r="1.35"/><circle cx="168.36" cy="268.77" r="1.35"/><circle cx="169.98" cy="283.26" r="1.35"/><circle cx="171.59" cy="273.34" r="1.35"/><circle cx="173.21" cy="276.39" r="1.35"/><circle cx="174.83" cy="278.68" r="1.35"/><circle cx="176.45" cy="273.85" r="1.35"/><circle cx="178.07" cy="292.91" r="1.35"/><circle cx="179.69" cy="270.55" r="1.35"/><circle cx="181.31" cy="273.85" r="1.35"/><circle cx="182.93" cy="273.34" r="1.35"/><circle cx="184.55" cy="281.48" r="1.35"/><circle cx="186.17" cy="282.49" r="1.35"/><circle cx="187.78" cy="254.79" r="1.35"/><circle cx="189.4" cy="276.39" r="1.35"/><circle cx="191.02" cy="258.34" r="1.35"/><circle cx="192.64" cy="270.29" r="1.35"/><circle cx="194.26" cy="288.85" r="1.35"/><circle cx="195.88" cy="272.32" r="1.35"/><circle cx="197.5" cy="277.15" r="1.35"/><circle cx="199.12" cy="268.77" r="1.35"/><circle cx="200.74" cy="294.44" r="1.35"/><circle cx="202.36" cy="255.29" r="1.35"/><circle cx="203.97" cy="263.94" r="1.35"/><circle cx="205.59" cy="276.39" r="1.35"/><circle cx="207.21" cy="280.46" r="1.35"/><circle cx="208.83" cy="274.87" r="1.35"/><circle cx="210.45" cy="247.92" r="1.35"/><circle cx="212.07" cy="280.97" r="1.35"/><circle cx="213.69" cy="281.98" r="1.35"/><circle cx="215.31" cy="273.34" r="1.35"/><circle cx="216.93" cy="269.78" r="1.35"/><circle cx="218.55" cy="265.46" r="1.35"/><circle cx="220.16" cy="274.87" r="1.35"/><circle cx="221.78" cy="290.88" r="1.35"/><circle cx="223.4" cy="270.55" r="1.35"/><circle cx="225.02" cy="277.15" r="1.35"/><circle cx="226.64" cy="257.84" r="1.35"/><circle cx="228.26" cy="260.89" r="1.35"/><circle cx="229.88" cy="283.26" r="1.35"/><circle cx="231.5" cy="251.23" r="1.35"/><circle cx="233.12" cy="264.7" r="1.35"/><circle cx="234.74" cy="273.34" r="1.35"/><circle cx="236.35" cy="281.48" r="1.35"/><circle cx="237.97" cy="259.36" r="1.35"/><circle cx="239.59" cy="260.89" r="1.35"/><circle cx="241.21" cy="264.95" r="1.35"/><circle cx="242.83" cy="267.24" r="1.35"/><circle cx="244.45" cy="274.87" r="1.35"/><circle cx="246.07" cy="261.39" r="1.35"/><circle cx="247.69" cy="287.58" r="1.35"/><circle cx="249.31" cy="275.63" r="1.35"/><circle cx="250.93" cy="281.73" r="1.35"/><circle cx="252.54" cy="281.73" r="1.35"/><circle cx="254.16" cy="261.39" r="1.35"/><circle cx="255.78" cy="266.22" r="1.35"/><circle cx="257.4" cy="263.17" r="1.35"/><circle cx="259.02" cy="260.38" r="1.35"/><circle cx="260.64" cy="275.63" r="1.35"/><circle cx="262.26" cy="279.44" r="1.35"/><circle cx="263.88" cy="284.53" r="1.35"/><circle cx="265.5" cy="271.05" r="1.35"/><circle cx="267.12" cy="249.45" r="1.35"/><circle cx="268.74" cy="269.53" r="1.35"/><circle cx="270.35" cy="298" r="1.35"/><circle cx="271.97" cy="277.92" r="1.35"/><circle cx="273.59" cy="260.89" r="1.35"/><circle cx="275.21" cy="258.6" r="1.35"/><circle cx="276.83" cy="252.5" r="1.35"/><circle cx="278.45" cy="282.75" r="1.35"/><circle cx="280.07" cy="284.27" r="1.35"/><circle cx="281.69" cy="274.87" r="1.35"/><circle cx="283.31" cy="282.75" r="1.35"/><circle cx="284.92" cy="277.92" r="1.35"/><circle cx="286.54" cy="278.17" r="1.35"/><circle cx="288.16" cy="279.44" r="1.35"/><circle cx="289.78" cy="267.24" r="1.35"/><circle cx="291.4" cy="260.12" r="1.35"/><circle cx="293.02" cy="270.04" r="1.35"/><circle cx="294.64" cy="259.11" r="1.35"/><circle cx="296.26" cy="268.77" r="1.35"/><circle cx="297.88" cy="262.67" r="1.35"/><circle cx="299.5" cy="270.04" r="1.35"/><circle cx="301.12" cy="266.48" r="1.35"/><circle cx="302.73" cy="280.97" r="1.35"/><circle cx="304.35" cy="271.56" r="1.35"/><circle cx="305.97" cy="271.82" r="1.35"/><circle cx="307.59" cy="279.95" r="1.35"/><circle cx="309.21" cy="275.38" r="1.35"/><circle cx="310.83" cy="279.95" r="1.35"/><circle cx="312.45" cy="278.17" r="1.35"/><circle cx="314.07" cy="259.11" r="1.35"/><circle cx="315.69" cy="255.55" r="1.35"/><circle cx="317.3" cy="288.34" r="1.35"/><circle cx="318.92" cy="268" r="1.35"/><circle cx="320.54" cy="262.16" r="1.35"/><circle cx="322.16" cy="277.15" r="1.35"/><circle cx="323.78" cy="242.08" r="1.35"/><circle cx="325.4" cy="284.27" r="1.35"/></g>
<polyline points="165.12,316.81 166.74,308.93 168.36,308.93 169.98,308.68 171.59,304.61 173.21,304.35 174.83,299.52 176.45,298.51 178.07,298.15 179.69,297.74 181.31,297.69 182.93,297.11 184.55,296.22 186.17,294.95 187.78,294.14 189.4,293.93 191.02,292.84 192.64,292.56 194.26,292.56 195.88,291.95 197.5,291.21 199.12,290.96 200.74,290.45 202.36,290.4 203.97,289.31 205.59,289 207.21,288.49 208.83,288.42 210.45,286.69 212.07,286.51 213.69,286 215.31,284.55 216.93,284.53 218.55,284.07 220.16,282.8 221.78,282.49 223.4,280.59 225.02,280.28 226.64,279.57 228.26,278.96 229.88,278.43 231.5,278.4 233.12,277.92 234.74,277.64 236.35,277.13 237.97,275.58 239.59,274.79 241.21,274.64 242.83,273.39 244.45,272.88 246.07,271.97 247.69,271.71 249.31,271.36 250.93,270.67 252.54,269.25 254.16,267.93 255.78,267.85 257.4,267.42 259.02,266.83 260.64,266.71 262.26,266.43 263.88,265.44 265.5,264.34 267.12,263.53 268.74,263.4 270.35,262.23 271.97,261.52 273.59,259.77 275.21,258.98 276.83,258.8 278.45,257.53 280.07,256.44 281.69,256.26 283.31,256.11 284.92,255.65 286.54,254.99 288.16,254.25 289.78,254.12 291.4,253.62 293.02,253.39 294.64,253.18 296.26,253.08 297.88,252.88 299.5,252.83 301.12,252.75 302.73,252.65 304.35,252.47 305.97,252.34 307.59,251.51 309.21,250.92 310.83,249.45 312.45,247.92 314.07,246.07 315.69,244.54 317.3,243.35 318.92,242.33 320.54,241.31 322.16,238.26 323.78,235.72 325.4,226.57" fill="none" stroke="#d873dc" stroke-width="0.55"/>
<g fill="#d873dc"><circle cx="165.12" cy="316.81" r="0.8"/><circle cx="166.74" cy="308.93" r="0.8"/><circle cx="168.36" cy="308.93" r="0.8"/><circle cx="169.98" cy="308.68" r="0.8"/><circle cx="171.59" cy="304.61" r="0.8"/><circle cx="173.21" cy="304.35" r="0.8"/><circle cx="174.83" cy="299.52" r="0.8"/><circle cx="176.45" cy="298.51" r="0.8"/><circle cx="178.07" cy="298.15" r="0.8"/><circle cx="179.69" cy="297.74" r="0.8"/><circle cx="181.31" cy="297.69" r="0.8"/><circle cx="182.93" cy="297.11" r="0.8"/><circle cx="184.55" cy="296.22" r="0.8"/><circle cx="186.17" cy="294.95" r="0.8"/><circle cx="187.78" cy="294.14" r="0.8"/><circle cx="189.4" cy="293.93" r="0.8"/><circle cx="191.02" cy="292.84" r="0.8"/><circle cx="192.64" cy="292.56" r="0.8"/><circle cx="194.26" cy="292.56" r="0.8"/><circle cx="195.88" cy="291.95" r="0.8"/><circle cx="197.5" cy="291.21" r="0.8"/><circle cx="199.12" cy="290.96" r="0.8"/><circle cx="200.74" cy="290.45" r="0.8"/><circle cx="202.36" cy="290.4" r="0.8"/><circle cx="203.97" cy="289.31" r="0.8"/><circle cx="205.59" cy="289" r="0.8"/><circle cx="207.21" cy="288.49" r="0.8"/><circle cx="208.83" cy="288.42" r="0.8"/><circle cx="210.45" cy="286.69" r="0.8"/><circle cx="212.07" cy="286.51" r="0.8"/><circle cx="213.69" cy="286" r="0.8"/><circle cx="215.31" cy="284.55" r="0.8"/><circle cx="216.93" cy="284.53" r="0.8"/><circle cx="218.55" cy="284.07" r="0.8"/><circle cx="220.16" cy="282.8" r="0.8"/><circle cx="221.78" cy="282.49" r="0.8"/><circle cx="223.4" cy="280.59" r="0.8"/><circle cx="225.02" cy="280.28" r="0.8"/><circle cx="226.64" cy="279.57" r="0.8"/><circle cx="228.26" cy="278.96" r="0.8"/><circle cx="229.88" cy="278.43" r="0.8"/><circle cx="231.5" cy="278.4" r="0.8"/><circle cx="233.12" cy="277.92" r="0.8"/><circle cx="234.74" cy="277.64" r="0.8"/><circle cx="236.35" cy="277.13" r="0.8"/><circle cx="237.97" cy="275.58" r="0.8"/><circle cx="239.59" cy="274.79" r="0.8"/><circle cx="241.21" cy="274.64" r="0.8"/><circle cx="242.83" cy="273.39" r="0.8"/><circle cx="244.45" cy="272.88" r="0.8"/><circle cx="246.07" cy="271.97" r="0.8"/><circle cx="247.69" cy="271.71" r="0.8"/><circle cx="249.31" cy="271.36" r="0.8"/><circle cx="250.93" cy="270.67" r="0.8"/><circle cx="252.54" cy="269.25" r="0.8"/><circle cx="254.16" cy="267.93" r="0.8"/><circle cx="255.78" cy="267.85" r="0.8"/><circle cx="257.4" cy="267.42" r="0.8"/><circle cx="259.02" cy="266.83" r="0.8"/><circle cx="260.64" cy="266.71" r="0.8"/><circle cx="262.26" cy="266.43" r="0.8"/><circle cx="263.88" cy="265.44" r="0.8"/><circle cx="265.5" cy="264.34" r="0.8"/><circle cx="267.12" cy="263.53" r="0.8"/><circle cx="268.74" cy="263.4" r="0.8"/><circle cx="270.35" cy="262.23" r="0.8"/><circle cx="271.97" cy="261.52" r="0.8"/><circle cx="273.59" cy="259.77" r="0.8"/><circle cx="275.21" cy="258.98" r="0.8"/><circle cx="276.83" cy="258.8" r="0.8"/><circle cx="278.45" cy="257.53" r="0.8"/><circle cx="280.07" cy="256.44" r="0.8"/><circle cx="281.69" cy="256.26" r="0.8"/><circle cx="283.31" cy="256.11" r="0.8"/><circle cx="284.92" cy="255.65" r="0.8"/><circle cx="286.54" cy="254.99" r="0.8"/><circle cx="288.16" cy="254.25" r="0.8"/><circle cx="289.78" cy="254.12" r="0.8"/><circle cx="291.4" cy="253.62" r="0.8"/><circle cx="293.02" cy="253.39" r="0.8"/><circle cx="294.64" cy="253.18" r="0.8"/><circle cx="296.26" cy="253.08" r="0.8"/><circle cx="297.88" cy="252.88" r="0.8"/><circle cx="299.5" cy="252.83" r="0.8"/><circle cx="301.12" cy="252.75" r="0.8"/><circle cx="302.73" cy="252.65" r="0.8"/><circle cx="304.35" cy="252.47" r="0.8"/><circle cx="305.97" cy="252.34" r="0.8"/><circle cx="307.59" cy="251.51" r="0.8"/><circle cx="309.21" cy="250.92" r="0.8"/><circle cx="310.83" cy="249.45" r="0.8"/><circle cx="312.45" cy="247.92" r="0.8"/><circle cx="314.07" cy="246.07" r="0.8"/><circle cx="315.69" cy="244.54" r="0.8"/><circle cx="317.3" cy="243.35" r="0.8"/><circle cx="318.92" cy="242.33" r="0.8"/><circle cx="320.54" cy="241.31" r="0.8"/><circle cx="322.16" cy="238.26" r="0.8"/><circle cx="323.78" cy="235.72" r="0.8"/><circle cx="325.4" cy="226.57" r="0.8"/></g>
<g class="sa" font-size="10.7" fill="#0d0d0d">
<text x="163.5" y="351.8" text-anchor="middle">0</text>
<text x="195.88" y="351.8" text-anchor="middle">20</text>
<text x="228.26" y="351.8" text-anchor="middle">40</text>
<text x="260.64" y="351.8" text-anchor="middle">60</text>
<text x="293.02" y="351.8" text-anchor="middle">80</text>
<text x="325.4" y="351.8" text-anchor="middle">100</text>
<text x="160.1" y="341.7" text-anchor="end">0.04</text>
<text x="160.1" y="316.28" text-anchor="end">0.05</text>
<text x="160.1" y="290.86" text-anchor="end">0.06</text>
<text x="160.1" y="265.44" text-anchor="end">0.07</text>
<text x="160.1" y="240.02" text-anchor="end">0.08</text>
<text x="160.1" y="214.6" text-anchor="end">0.09</text>
</g>
<text x="244.75" y="365.4" text-anchor="middle" class="sa" font-size="10.8" fill="#0d0d0d">test points</text>
<text transform="translate(131.5,284.35) rotate(-90)" class="sa" font-size="10.5" font-style="italic" fill="#0d0d0d">μ</text>
<text transform="translate(136,275.25) rotate(-90)" class="sa" font-size="8.6" fill="#0d0d0d">cof</text>
<text x="244.45" y="384.5" text-anchor="middle" class="se" font-size="11.4" fill="#0d0d0d">(d)</text>
<rect x="168.4" y="214.3" width="101.2" height="28.4" fill="#ffffff" stroke="#5a5a5a" stroke-width="0.9"/>
<path d="M170 222.1H186.4" stroke="#70bed0" stroke-width="1" stroke-dasharray="1 1" fill="none"/>
<circle cx="178.2" cy="222.1" r="1.35" fill="#70bed0"/>
<path d="M170 235.6H186" stroke="#d873dc" stroke-width="0.55" fill="none"/>
<circle cx="178.2" cy="235.6" r="0.8" fill="#d873dc"/>
<text x="187.4" y="226.2" class="sa" font-size="10.8" fill="#0d0d0d">prediction output</text>
<text x="187.4" y="239.7" class="sa" font-size="10.8" fill="#0d0d0d">expected output</text>
</g>
<g>
<rect x="402.1" y="210.3" width="161.6" height="127.1" fill="none" stroke="#727272" stroke-width="1"/>
<path d="M402.1 337.4V335.3M402.1 210.3V212.4M402.1 337.4H404.2M563.7 337.4H561.6M434.42 337.4V335.3M434.42 210.3V212.4M402.1 311.98H404.2M563.7 311.98H561.6M466.74 337.4V335.3M466.74 210.3V212.4M402.1 286.56H404.2M563.7 286.56H561.6M499.06 337.4V335.3M499.06 210.3V212.4M402.1 261.14H404.2M563.7 261.14H561.6M531.38 337.4V335.3M531.38 210.3V212.4M402.1 235.72H404.2M563.7 235.72H561.6M563.7 337.4V335.3M563.7 210.3V212.4M402.1 210.3H404.2M563.7 210.3H561.6" stroke="#686868" stroke-width="0.9" fill="none"/>
<polyline points="403.72,278.68 405.33,273.34 406.95,292.66 408.56,280.97 410.18,286.05 411.8,277.92 413.41,270.55 415.03,273.34 416.64,285.29 418.26,276.65 419.88,285.54 421.49,271.56 423.11,284.27 424.72,286.31 426.34,271.56 427.96,281.73 429.57,265.46 431.19,286.31 432.8,284.27 434.42,272.83 436.04,274.36 437.65,273.6 439.27,271.05 440.88,259.36 442.5,259.36 444.12,284.27 445.73,284.27 447.35,274.1 448.96,269.27 450.58,266.22 452.2,266.99 453.81,294.95 455.43,272.32 457.04,267.5 458.66,283.26 460.28,274.87 461.89,279.19 463.51,279.95 465.12,268.26 466.74,259.87 468.36,269.02 469.97,271.31 471.59,263.17 473.2,260.12 474.82,282.75 476.44,271.31 478.05,260.12 479.67,283.76 481.28,284.53 482.9,283.76 484.52,271.05 486.13,271.05 487.75,271.31 489.36,257.07 490.98,279.44 492.6,274.36 494.21,288.09 495.83,262.41 497.44,272.07 499.06,264.7 500.68,260.12 502.29,263.17 503.91,262.16 505.52,258.6 507.14,263.68 508.76,268.26 510.37,264.44 511.99,276.14 513.6,256.31 515.22,267.5 516.84,261.39 518.45,246.65 520.07,286.05 521.68,252.5 523.3,283 524.92,271.05 526.53,256.82 528.15,254.79 529.76,262.16 531.38,257.33 533,256.82 534.61,255.55 536.23,258.85 537.84,256.82 539.46,284.53 541.08,248.94 542.69,265.21 544.31,272.32 545.92,254.02 547.54,262.16 549.16,254.02 550.77,250.97 552.39,264.95 554,267.24 555.62,269.27 557.24,251.73 558.85,256.82 560.47,278.43 562.08,271.05 563.7,283" fill="none" stroke="url(#dt)" stroke-width="1"/>
<g fill="#70bed0"><circle cx="403.72" cy="278.68" r="1.35"/><circle cx="405.33" cy="273.34" r="1.35"/><circle cx="406.95" cy="292.66" r="1.35"/><circle cx="408.56" cy="280.97" r="1.35"/><circle cx="410.18" cy="286.05" r="1.35"/><circle cx="411.8" cy="277.92" r="1.35"/><circle cx="413.41" cy="270.55" r="1.35"/><circle cx="415.03" cy="273.34" r="1.35"/><circle cx="416.64" cy="285.29" r="1.35"/><circle cx="418.26" cy="276.65" r="1.35"/><circle cx="419.88" cy="285.54" r="1.35"/><circle cx="421.49" cy="271.56" r="1.35"/><circle cx="423.11" cy="284.27" r="1.35"/><circle cx="424.72" cy="286.31" r="1.35"/><circle cx="426.34" cy="271.56" r="1.35"/><circle cx="427.96" cy="281.73" r="1.35"/><circle cx="429.57" cy="265.46" r="1.35"/><circle cx="431.19" cy="286.31" r="1.35"/><circle cx="432.8" cy="284.27" r="1.35"/><circle cx="434.42" cy="272.83" r="1.35"/><circle cx="436.04" cy="274.36" r="1.35"/><circle cx="437.65" cy="273.6" r="1.35"/><circle cx="439.27" cy="271.05" r="1.35"/><circle cx="440.88" cy="259.36" r="1.35"/><circle cx="442.5" cy="259.36" r="1.35"/><circle cx="444.12" cy="284.27" r="1.35"/><circle cx="445.73" cy="284.27" r="1.35"/><circle cx="447.35" cy="274.1" r="1.35"/><circle cx="448.96" cy="269.27" r="1.35"/><circle cx="450.58" cy="266.22" r="1.35"/><circle cx="452.2" cy="266.99" r="1.35"/><circle cx="453.81" cy="294.95" r="1.35"/><circle cx="455.43" cy="272.32" r="1.35"/><circle cx="457.04" cy="267.5" r="1.35"/><circle cx="458.66" cy="283.26" r="1.35"/><circle cx="460.28" cy="274.87" r="1.35"/><circle cx="461.89" cy="279.19" r="1.35"/><circle cx="463.51" cy="279.95" r="1.35"/><circle cx="465.12" cy="268.26" r="1.35"/><circle cx="466.74" cy="259.87" r="1.35"/><circle cx="468.36" cy="269.02" r="1.35"/><circle cx="469.97" cy="271.31" r="1.35"/><circle cx="471.59" cy="263.17" r="1.35"/><circle cx="473.2" cy="260.12" r="1.35"/><circle cx="474.82" cy="282.75" r="1.35"/><circle cx="476.44" cy="271.31" r="1.35"/><circle cx="478.05" cy="260.12" r="1.35"/><circle cx="479.67" cy="283.76" r="1.35"/><circle cx="481.28" cy="284.53" r="1.35"/><circle cx="482.9" cy="283.76" r="1.35"/><circle cx="484.52" cy="271.05" r="1.35"/><circle cx="486.13" cy="271.05" r="1.35"/><circle cx="487.75" cy="271.31" r="1.35"/><circle cx="489.36" cy="257.07" r="1.35"/><circle cx="490.98" cy="279.44" r="1.35"/><circle cx="492.6" cy="274.36" r="1.35"/><circle cx="494.21" cy="288.09" r="1.35"/><circle cx="495.83" cy="262.41" r="1.35"/><circle cx="497.44" cy="272.07" r="1.35"/><circle cx="499.06" cy="264.7" r="1.35"/><circle cx="500.68" cy="260.12" r="1.35"/><circle cx="502.29" cy="263.17" r="1.35"/><circle cx="503.91" cy="262.16" r="1.35"/><circle cx="505.52" cy="258.6" r="1.35"/><circle cx="507.14" cy="263.68" r="1.35"/><circle cx="508.76" cy="268.26" r="1.35"/><circle cx="510.37" cy="264.44" r="1.35"/><circle cx="511.99" cy="276.14" r="1.35"/><circle cx="513.6" cy="256.31" r="1.35"/><circle cx="515.22" cy="267.5" r="1.35"/><circle cx="516.84" cy="261.39" r="1.35"/><circle cx="518.45" cy="246.65" r="1.35"/><circle cx="520.07" cy="286.05" r="1.35"/><circle cx="521.68" cy="252.5" r="1.35"/><circle cx="523.3" cy="283" r="1.35"/><circle cx="524.92" cy="271.05" r="1.35"/><circle cx="526.53" cy="256.82" r="1.35"/><circle cx="528.15" cy="254.79" r="1.35"/><circle cx="529.76" cy="262.16" r="1.35"/><circle cx="531.38" cy="257.33" r="1.35"/><circle cx="533" cy="256.82" r="1.35"/><circle cx="534.61" cy="255.55" r="1.35"/><circle cx="536.23" cy="258.85" r="1.35"/><circle cx="537.84" cy="256.82" r="1.35"/><circle cx="539.46" cy="284.53" r="1.35"/><circle cx="541.08" cy="248.94" r="1.35"/><circle cx="542.69" cy="265.21" r="1.35"/><circle cx="544.31" cy="272.32" r="1.35"/><circle cx="545.92" cy="254.02" r="1.35"/><circle cx="547.54" cy="262.16" r="1.35"/><circle cx="549.16" cy="254.02" r="1.35"/><circle cx="550.77" cy="250.97" r="1.35"/><circle cx="552.39" cy="264.95" r="1.35"/><circle cx="554" cy="267.24" r="1.35"/><circle cx="555.62" cy="269.27" r="1.35"/><circle cx="557.24" cy="251.73" r="1.35"/><circle cx="558.85" cy="256.82" r="1.35"/><circle cx="560.47" cy="278.43" r="1.35"/><circle cx="562.08" cy="271.05" r="1.35"/><circle cx="563.7" cy="283" r="1.35"/></g>
<polyline points="403.72,316.81 405.33,308.93 406.95,308.93 408.56,308.68 410.18,304.61 411.8,304.35 413.41,299.52 415.03,298.51 416.64,298.15 418.26,297.74 419.88,297.69 421.49,297.11 423.11,296.22 424.72,294.95 426.34,294.14 427.96,293.93 429.57,292.84 431.19,292.56 432.8,292.56 434.42,291.95 436.04,291.21 437.65,290.96 439.27,290.45 440.88,290.4 442.5,289.31 444.12,289 445.73,288.49 447.35,288.42 448.96,286.69 450.58,286.51 452.2,286 453.81,284.55 455.43,284.53 457.04,284.07 458.66,282.8 460.28,282.49 461.89,280.59 463.51,280.28 465.12,279.57 466.74,278.96 468.36,278.43 469.97,278.4 471.59,277.92 473.2,277.64 474.82,277.13 476.44,275.58 478.05,274.79 479.67,274.64 481.28,273.39 482.9,272.88 484.52,271.97 486.13,271.71 487.75,271.36 489.36,270.67 490.98,269.25 492.6,267.93 494.21,267.85 495.83,267.42 497.44,266.83 499.06,266.71 500.68,266.43 502.29,265.44 503.91,264.34 505.52,263.53 507.14,263.4 508.76,262.23 510.37,261.52 511.99,259.77 513.6,258.98 515.22,258.8 516.84,257.53 518.45,256.44 520.07,256.26 521.68,256.11 523.3,255.65 524.92,254.99 526.53,254.25 528.15,254.12 529.76,253.62 531.38,253.39 533,253.18 534.61,253.08 536.23,252.88 537.84,252.83 539.46,252.75 541.08,252.65 542.69,252.47 544.31,252.34 545.92,251.51 547.54,250.92 549.16,249.45 550.77,247.92 552.39,246.07 554,244.54 555.62,243.35 557.24,242.33 558.85,241.31 560.47,238.26 562.08,235.72 563.7,226.57" fill="none" stroke="#d873dc" stroke-width="0.55"/>
<g fill="#d873dc"><circle cx="403.72" cy="316.81" r="0.8"/><circle cx="405.33" cy="308.93" r="0.8"/><circle cx="406.95" cy="308.93" r="0.8"/><circle cx="408.56" cy="308.68" r="0.8"/><circle cx="410.18" cy="304.61" r="0.8"/><circle cx="411.8" cy="304.35" r="0.8"/><circle cx="413.41" cy="299.52" r="0.8"/><circle cx="415.03" cy="298.51" r="0.8"/><circle cx="416.64" cy="298.15" r="0.8"/><circle cx="418.26" cy="297.74" r="0.8"/><circle cx="419.88" cy="297.69" r="0.8"/><circle cx="421.49" cy="297.11" r="0.8"/><circle cx="423.11" cy="296.22" r="0.8"/><circle cx="424.72" cy="294.95" r="0.8"/><circle cx="426.34" cy="294.14" r="0.8"/><circle cx="427.96" cy="293.93" r="0.8"/><circle cx="429.57" cy="292.84" r="0.8"/><circle cx="431.19" cy="292.56" r="0.8"/><circle cx="432.8" cy="292.56" r="0.8"/><circle cx="434.42" cy="291.95" r="0.8"/><circle cx="436.04" cy="291.21" r="0.8"/><circle cx="437.65" cy="290.96" r="0.8"/><circle cx="439.27" cy="290.45" r="0.8"/><circle cx="440.88" cy="290.4" r="0.8"/><circle cx="442.5" cy="289.31" r="0.8"/><circle cx="444.12" cy="289" r="0.8"/><circle cx="445.73" cy="288.49" r="0.8"/><circle cx="447.35" cy="288.42" r="0.8"/><circle cx="448.96" cy="286.69" r="0.8"/><circle cx="450.58" cy="286.51" r="0.8"/><circle cx="452.2" cy="286" r="0.8"/><circle cx="453.81" cy="284.55" r="0.8"/><circle cx="455.43" cy="284.53" r="0.8"/><circle cx="457.04" cy="284.07" r="0.8"/><circle cx="458.66" cy="282.8" r="0.8"/><circle cx="460.28" cy="282.49" r="0.8"/><circle cx="461.89" cy="280.59" r="0.8"/><circle cx="463.51" cy="280.28" r="0.8"/><circle cx="465.12" cy="279.57" r="0.8"/><circle cx="466.74" cy="278.96" r="0.8"/><circle cx="468.36" cy="278.43" r="0.8"/><circle cx="469.97" cy="278.4" r="0.8"/><circle cx="471.59" cy="277.92" r="0.8"/><circle cx="473.2" cy="277.64" r="0.8"/><circle cx="474.82" cy="277.13" r="0.8"/><circle cx="476.44" cy="275.58" r="0.8"/><circle cx="478.05" cy="274.79" r="0.8"/><circle cx="479.67" cy="274.64" r="0.8"/><circle cx="481.28" cy="273.39" r="0.8"/><circle cx="482.9" cy="272.88" r="0.8"/><circle cx="484.52" cy="271.97" r="0.8"/><circle cx="486.13" cy="271.71" r="0.8"/><circle cx="487.75" cy="271.36" r="0.8"/><circle cx="489.36" cy="270.67" r="0.8"/><circle cx="490.98" cy="269.25" r="0.8"/><circle cx="492.6" cy="267.93" r="0.8"/><circle cx="494.21" cy="267.85" r="0.8"/><circle cx="495.83" cy="267.42" r="0.8"/><circle cx="497.44" cy="266.83" r="0.8"/><circle cx="499.06" cy="266.71" r="0.8"/><circle cx="500.68" cy="266.43" r="0.8"/><circle cx="502.29" cy="265.44" r="0.8"/><circle cx="503.91" cy="264.34" r="0.8"/><circle cx="505.52" cy="263.53" r="0.8"/><circle cx="507.14" cy="263.4" r="0.8"/><circle cx="508.76" cy="262.23" r="0.8"/><circle cx="510.37" cy="261.52" r="0.8"/><circle cx="511.99" cy="259.77" r="0.8"/><circle cx="513.6" cy="258.98" r="0.8"/><circle cx="515.22" cy="258.8" r="0.8"/><circle cx="516.84" cy="257.53" r="0.8"/><circle cx="518.45" cy="256.44" r="0.8"/><circle cx="520.07" cy="256.26" r="0.8"/><circle cx="521.68" cy="256.11" r="0.8"/><circle cx="523.3" cy="255.65" r="0.8"/><circle cx="524.92" cy="254.99" r="0.8"/><circle cx="526.53" cy="254.25" r="0.8"/><circle cx="528.15" cy="254.12" r="0.8"/><circle cx="529.76" cy="253.62" r="0.8"/><circle cx="531.38" cy="253.39" r="0.8"/><circle cx="533" cy="253.18" r="0.8"/><circle cx="534.61" cy="253.08" r="0.8"/><circle cx="536.23" cy="252.88" r="0.8"/><circle cx="537.84" cy="252.83" r="0.8"/><circle cx="539.46" cy="252.75" r="0.8"/><circle cx="541.08" cy="252.65" r="0.8"/><circle cx="542.69" cy="252.47" r="0.8"/><circle cx="544.31" cy="252.34" r="0.8"/><circle cx="545.92" cy="251.51" r="0.8"/><circle cx="547.54" cy="250.92" r="0.8"/><circle cx="549.16" cy="249.45" r="0.8"/><circle cx="550.77" cy="247.92" r="0.8"/><circle cx="552.39" cy="246.07" r="0.8"/><circle cx="554" cy="244.54" r="0.8"/><circle cx="555.62" cy="243.35" r="0.8"/><circle cx="557.24" cy="242.33" r="0.8"/><circle cx="558.85" cy="241.31" r="0.8"/><circle cx="560.47" cy="238.26" r="0.8"/><circle cx="562.08" cy="235.72" r="0.8"/><circle cx="563.7" cy="226.57" r="0.8"/></g>
<g class="sa" font-size="10.7" fill="#0d0d0d">
<text x="402.1" y="351.8" text-anchor="middle">0</text>
<text x="434.42" y="351.8" text-anchor="middle">20</text>
<text x="466.74" y="351.8" text-anchor="middle">40</text>
<text x="499.06" y="351.8" text-anchor="middle">60</text>
<text x="531.38" y="351.8" text-anchor="middle">80</text>
<text x="563.7" y="351.8" text-anchor="middle">100</text>
<text x="398.7" y="341.7" text-anchor="end">0.04</text>
<text x="398.7" y="316.28" text-anchor="end">0.05</text>
<text x="398.7" y="290.86" text-anchor="end">0.06</text>
<text x="398.7" y="265.44" text-anchor="end">0.07</text>
<text x="398.7" y="240.02" text-anchor="end">0.08</text>
<text x="398.7" y="214.6" text-anchor="end">0.09</text>
</g>
<text x="483.2" y="365.4" text-anchor="middle" class="sa" font-size="10.8" fill="#0d0d0d">test points</text>
<text transform="translate(370.1,284.35) rotate(-90)" class="sa" font-size="10.5" font-style="italic" fill="#0d0d0d">μ</text>
<text transform="translate(374.6,275.25) rotate(-90)" class="sa" font-size="8.6" fill="#0d0d0d">cof</text>
<text x="483.1" y="384.6" text-anchor="middle" class="se" font-size="11.4" fill="#0d0d0d">(e)</text>
<rect x="407.3" y="214.5" width="101.2" height="29" fill="#ffffff" stroke="#5a5a5a" stroke-width="0.9"/>
<path d="M409 222.3H425.4" stroke="#70bed0" stroke-width="1" stroke-dasharray="1 1" fill="none"/>
<circle cx="417.2" cy="222.3" r="1.35" fill="#70bed0"/>
<path d="M409 235.8H425" stroke="#d873dc" stroke-width="0.55" fill="none"/>
<circle cx="417.2" cy="235.8" r="0.8" fill="#d873dc"/>
<text x="426" y="226.8" class="sa" font-size="10.8" fill="#0d0d0d">prediction output</text>
<text x="426" y="240.3" class="sa" font-size="10.8" fill="#0d0d0d">expected output</text>
</g>
</svg>
</body></html>
